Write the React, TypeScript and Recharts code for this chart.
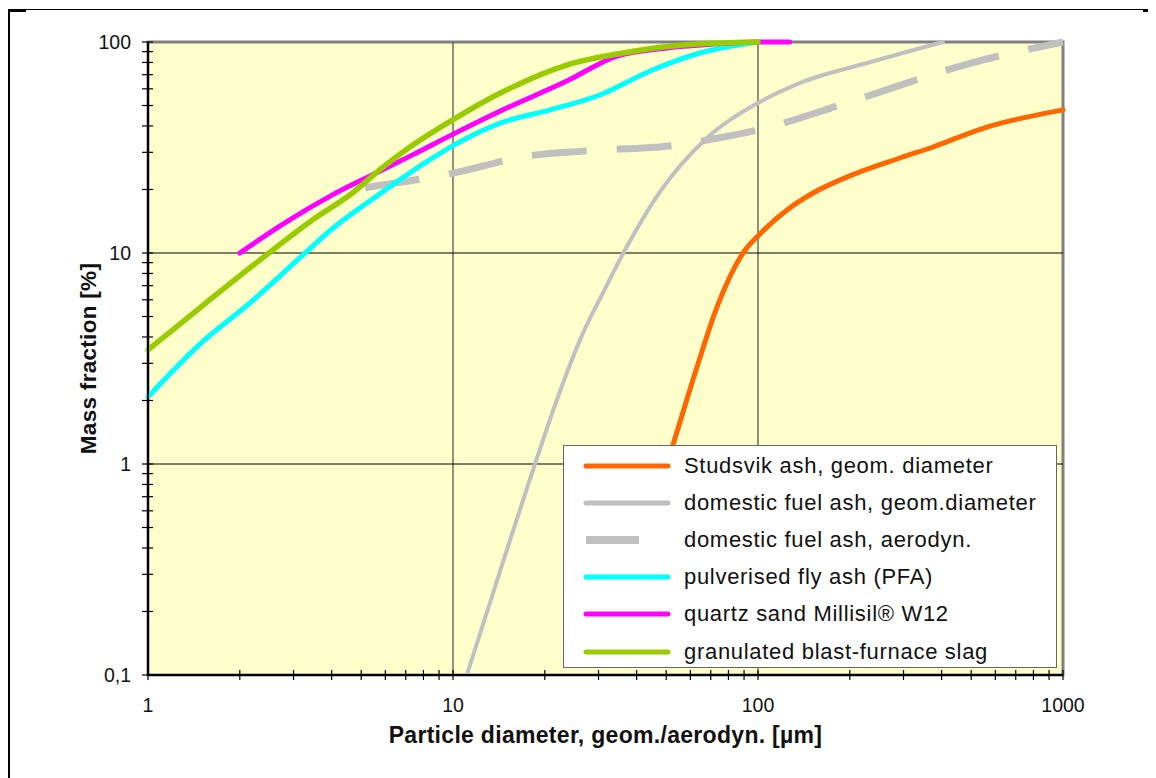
import React from 'react';
import {
  LineChart, Line, XAxis, YAxis, ReferenceArea, ReferenceLine, Legend, Label,
} from 'recharts';

// particle size distributions, cumulative mass fraction [%] vs diameter [µm]
const studsvikX = [45, 52.6, 63.1, 73.4, 89.3, 102, 124.5, 151, 200, 292, 375, 547, 1000];
const studsvikY = [0.6, 1.23, 2.88, 5.55, 10, 12.4, 16.0, 19.2, 23.2, 28.2, 31.8, 39.0, 47.7];

const domesticGeomX = [11.1, 15.0, 18.9, 21.9, 26.7, 31.0, 36.6, 47.7, 68, 100, 137, 228, 404];
const domesticGeomY = [0.1, 0.39, 1.08, 2.01, 4.18, 6.46, 10.3, 19.5, 35.1, 51.4, 63.9, 79.5, 100];

const domesticAeroX = [5.15, 10, 17.5, 26.7, 54.3, 68, 100, 200, 500, 1000];
const domesticAeroY = [20.4, 23.9, 28.8, 30.4, 32.5, 34.3, 38.3, 52, 79.5, 100];

const pfaX = [1, 1.48, 2.16, 3.15, 4.01, 5.68, 8.28, 10.2, 14.3, 20.8, 30.3, 44.3, 64.5, 100];
const pfaY = [2.08, 3.7, 5.8, 9.5, 13.0, 18.8, 27.3, 32.8, 41.3, 47.7, 56.1, 72.9, 88.7, 100];

const quartzX = [2, 2.81, 4.01, 5.68, 7.34, 10.2, 14.3, 23.6, 34.5, 50.3, 70, 100, 127];
const quartzY = [10, 13.9, 18.8, 24.2, 29.1, 37.1, 47.1, 65.3, 85.8, 93.7, 97.5, 100, 100];

const slagX = [1, 1.48, 2.33, 3.45, 4.67, 5.85, 7.34, 10.2, 14.3, 23.6, 36.1, 56.8, 100];
const slagY = [3.47, 5.5, 9.27, 14.3, 19.2, 25.3, 32.3, 43.6, 57.3, 77.8, 88.7, 96.8, 100];

const xTicks = [1, 2, 3, 4, 5, 6, 7, 8, 9, 10, 20, 30, 40, 50, 60, 70, 80, 90, 100,
  200, 300, 400, 500, 600, 700, 800, 900, 1000];
const yTicks = [0.1, 0.2, 0.3, 0.4, 0.5, 0.6, 0.7, 0.8, 0.9, 1, 2, 3, 4, 5, 6, 7, 8, 9, 10,
  20, 30, 40, 50, 60, 70, 80, 90, 100];
const xTickLabels: Record<number, string> = { 1: '1', 10: '10', 100: '100', 1000: '1000' };
const yTickLabels: Record<number, string> = { 0.1: '0,1', 1: '1', 10: '10', 100: '100' };

const toPoints = (xs: number[], ys: number[]) => xs.map((x, i) => ({ x, y: ys[i] }));

const series = [
  { name: 'domestic fuel ash, aerodyn.', data: toPoints(domesticAeroX, domesticAeroY), color: '#C0C0C0', width: 7, dash: '55 30' },
  { name: 'domestic fuel ash, geom.diameter', data: toPoints(domesticGeomX, domesticGeomY), color: '#C0C0C0', width: 4 },
  { name: 'Studsvik ash, geom. diameter', data: toPoints(studsvikX, studsvikY), color: '#FF6600', width: 5 },
  { name: 'pulverised fly ash (PFA)', data: toPoints(pfaX, pfaY), color: '#00FFFF', width: 5 },
  { name: 'quartz sand Millisil® W12', data: toPoints(quartzX, quartzY), color: '#FF00FF', width: 5 },
  { name: 'granulated blast-furnace slag', data: toPoints(slagX, slagY), color: '#99CC00', width: 5.5 },
];

const legendOrder = [
  'Studsvik ash, geom. diameter',
  'domestic fuel ash, geom.diameter',
  'domestic fuel ash, aerodyn.',
  'pulverised fly ash (PFA)',
  'quartz sand Millisil® W12',
  'granulated blast-furnace slag',
];

const FONT = '"Liberation Sans", Arial, sans-serif';

const XTick = (props: any) => {
  const { x, y, payload } = props;
  const label = xTickLabels[payload.value];
  return (
    <g>
      <line x1={x} x2={x} y1={y - 5} y2={y + 5} stroke="#000" strokeWidth={1.2} />
      {label && (
        <text x={x} y={y + 37} textAnchor="middle" fontSize={19.5} fontFamily={FONT} fill="#111">
          {label}
        </text>
      )}
    </g>
  );
};

const YTick = (props: any) => {
  const { x, y, payload } = props;
  const label = yTickLabels[payload.value];
  return (
    <g>
      <line x1={x - 6} x2={x + 5} y1={y} y2={y} stroke="#000" strokeWidth={1.2} />
      {label && (
        <text x={x - 17} y={y + 7} textAnchor="end" fontSize={19.5} fontFamily={FONT} fill="#111">
          {label}
        </text>
      )}
    </g>
  );
};

const renderLegend = () => (
  <div
    style={{
      width: 494, height: 223, boxSizing: 'border-box', background: '#fff',
      border: '1.5px solid #666', paddingTop: 1, fontFamily: FONT,
    }}
  >
    {legendOrder.map((name) => {
      const s = series.find((d) => d.name === name)!;
      return (
        <div key={name} style={{ display: 'flex', alignItems: 'center', height: 37.2 }}>
          <svg width={120} height={20} style={{ flex: 'none' }}>
            {s.dash ? (
              <line x1={22} x2={75} y1={10} y2={10} stroke={s.color} strokeWidth={8} />
            ) : (
              <line x1={22} x2={104} y1={10} y2={10} stroke={s.color} strokeWidth={5} strokeLinecap="round" />
            )}
          </svg>
          <span style={{ fontSize: 22, letterSpacing: 0.7, color: '#111', whiteSpace: 'nowrap' }}>{name}</span>
        </div>
      );
    })}
  </div>
);

export default function App() {
  return (
    <div style={{ position: 'relative', width: 1148, height: 770 }}>
      <div style={{ position: 'absolute', left: 0, top: 1, width: 1137, height: 2, borderTop: '1.5px solid #000' }} />
      <div style={{ position: 'absolute', left: 0, top: 1, width: 18, height: 2.5, background: '#000' }} />
      <div style={{ position: 'absolute', left: 1135, top: 1, width: 13, height: 2.5, background: '#000' }} />
      <div style={{ position: 'absolute', left: 0, top: 1, width: 2, height: 770, background: '#000' }} />
      <LineChart
        width={1140}
        height={770}
        margin={{ top: 34, right: 85, left: 0, bottom: 53 }}
        style={{ position: 'absolute', left: 0, top: 0 }}
      >
        <XAxis
          dataKey="x"
          type="number"
          scale="log"
          domain={[1, 1000]}
          ticks={xTicks}
          interval={0}
          tick={<XTick />}
          tickLine={false}
          tickSize={0}
          tickMargin={0}
          height={50}
          axisLine={{ stroke: '#000', strokeWidth: 2 }}
          allowDuplicatedCategory={false}
        >
          <Label
            content={({ viewBox }: any) => (
              <text
                x={viewBox.x + viewBox.width / 2}
                y={viewBox.y + 60}
                textAnchor="middle"
                dominantBaseline="central"
                fontFamily={FONT}
                fontSize={23}
                fontWeight="bold"
                letterSpacing={0.3}
                fill="#111"
              >
                Particle diameter, geom./aerodyn. [µm]
              </text>
            )}
          />
        </XAxis>
        <YAxis
          dataKey="y"
          type="number"
          scale="log"
          domain={[0.1, 100]}
          ticks={yTicks}
          interval={0}
          tick={<YTick />}
          tickLine={false}
          tickSize={0}
          tickMargin={0}
          width={140}
          axisLine={{ stroke: '#000', strokeWidth: 2 }}
        >
          <Label
            content={({ viewBox }: any) => {
              const cx = viewBox.x + 80;
              const cy = viewBox.y + viewBox.height / 2;
              return (
                <text
                  x={cx}
                  y={cy}
                  transform={`rotate(-90, ${cx}, ${cy})`}
                  textAnchor="middle"
                  dominantBaseline="central"
                  fontFamily={FONT}
                  fontSize={22.5}
                  fontWeight="bold"
                  letterSpacing={0.3}
                  fill="#111"
                >
                  Mass fraction [%]
                </text>
              );
            }}
          />
        </YAxis>
        <ReferenceArea
          x1={1}
          x2={1000}
          y1={0.1}
          y2={100}
          fill="#FFFFCC"
          fillOpacity={1}
          stroke="#808080"
          strokeWidth={3}
        />
        <ReferenceLine x={10} stroke="#555" strokeWidth={1.3} />
        <ReferenceLine x={100} stroke="#555" strokeWidth={1.3} />
        <ReferenceLine y={1} stroke="#000" strokeWidth={1} />
        <ReferenceLine y={10} stroke="#000" strokeWidth={1} />
        {series.map((s) => (
          <Line
            key={s.name}
            name={s.name}
            data={s.data}
            dataKey="y"
            type="monotone"
            stroke={s.color}
            strokeWidth={s.width}
            strokeDasharray={s.dash}
            strokeLinecap={s.dash ? 'butt' : 'round'}
            dot={false}
            activeDot={false}
            isAnimationActive={false}
          />
        ))}
        <Legend
          layout="vertical"
          align="center"
          verticalAlign="middle"
          content={renderLegend}
          wrapperStyle={{ left: 555, top: 437, width: 494, height: 223 }}
        />
      </LineChart>
    </div>
  );
}
